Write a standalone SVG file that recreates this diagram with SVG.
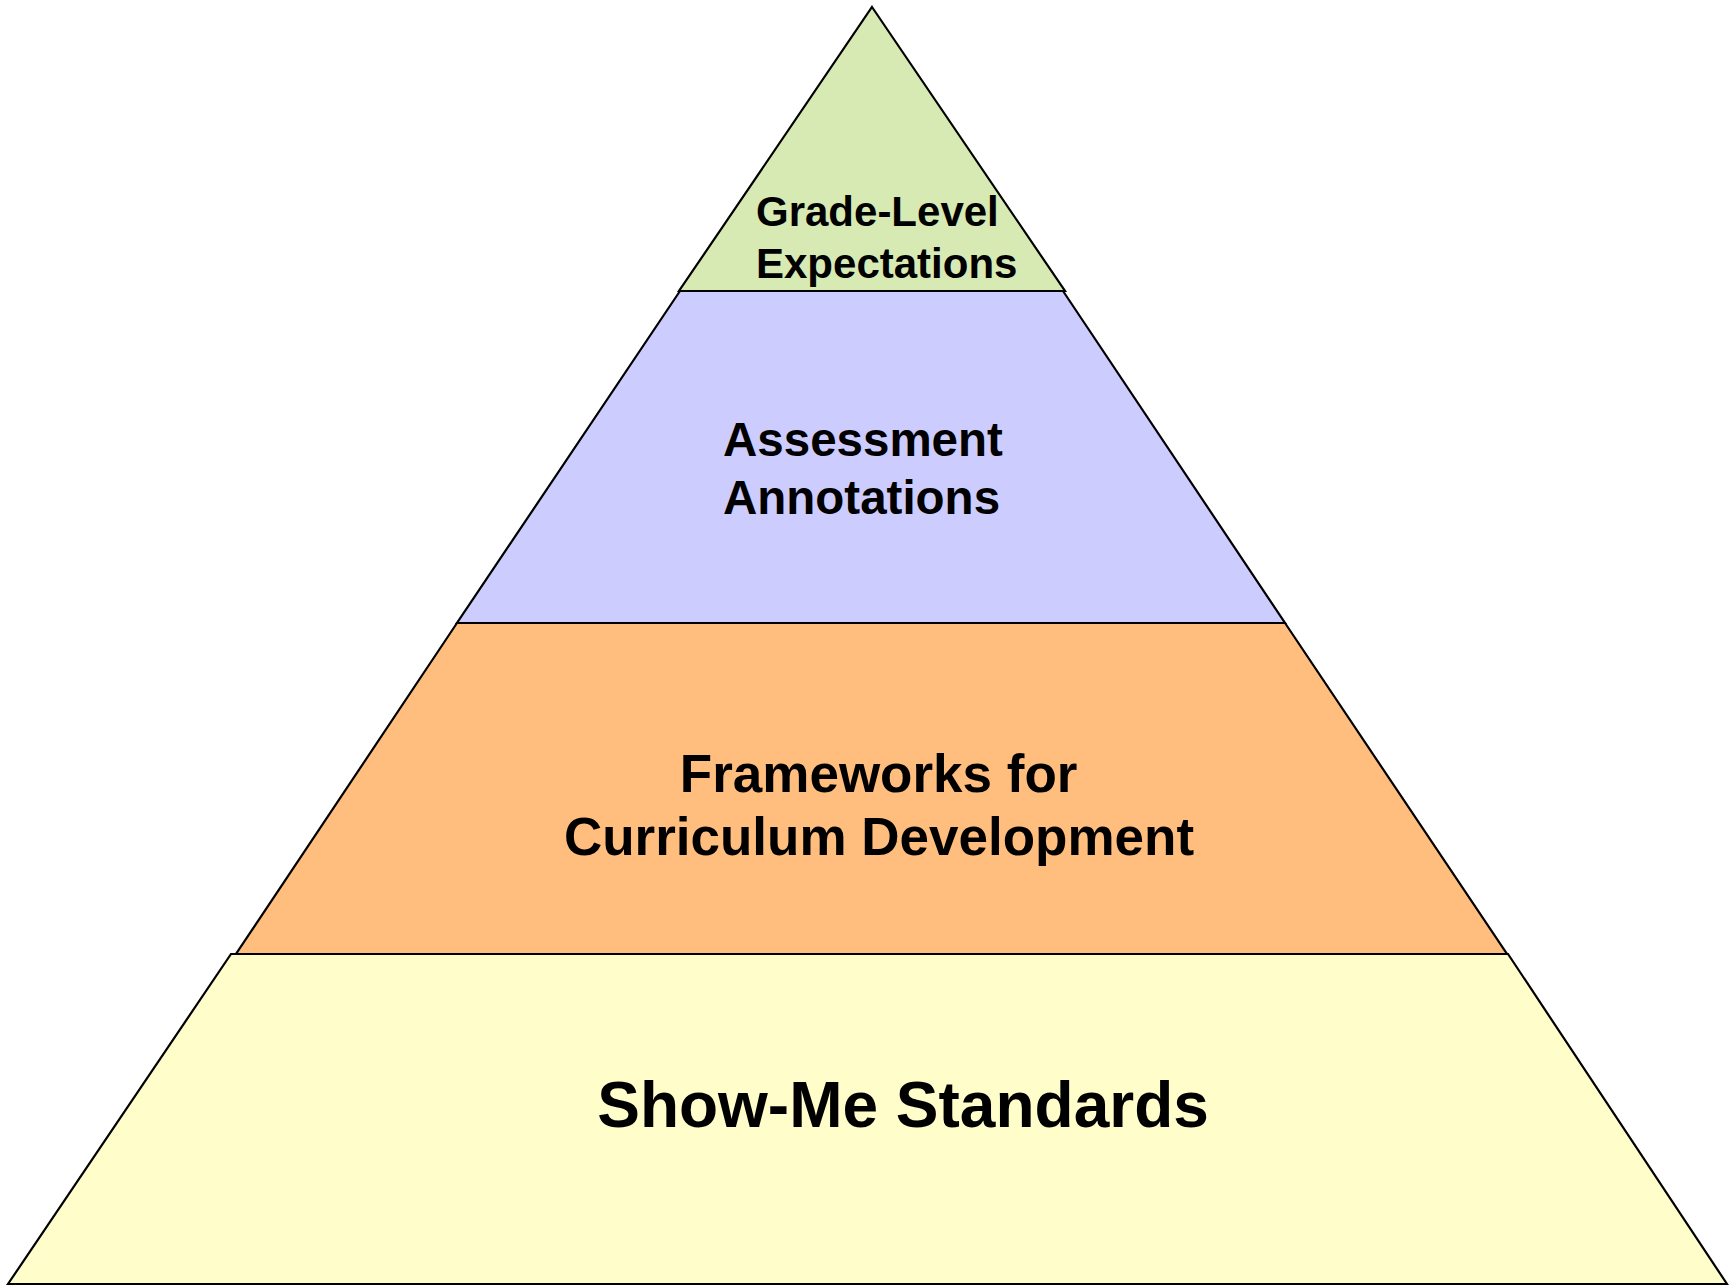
<svg xmlns="http://www.w3.org/2000/svg" width="1730" height="1285" viewBox="0 0 1730 1285">
  <style>
    .tier { stroke: #000000; stroke-width: 2.2; stroke-linejoin: miter; }
    .label { font-family: "Liberation Sans", Arial, Helvetica, sans-serif; font-weight: bold; fill: #000000; }
  </style>
  <rect width="1730" height="1285" fill="#ffffff"/>

  <!-- Base tier -->
  <g id="show-me-standards">
    <polygon class="tier" fill="#FFFDCA" points="231,954 1508,954 1727,1284 8,1284"/>
    <text class="label" x="903" y="1127" font-size="64" text-anchor="middle">Show-Me Standards</text>
  </g>

  <!-- Third tier -->
  <g id="frameworks">
    <polygon class="tier" fill="#FFBE7D" points="457,623 1285,623 1507,954 236,954"/>
    <text class="label" font-size="53" text-anchor="middle">
      <tspan x="886" y="792">Frameworks for</tspan>
      <tspan x="879" y="855">Curriculum Development</tspan>
    </text>
  </g>

  <!-- Second tier -->
  <g id="assessment-annotations">
    <polygon class="tier" fill="#CCCCFF" points="680,291 1063,291 1285,623 457,623"/>
    <text class="label" font-size="47.5">
      <tspan x="723" y="456">Assessment</tspan>
      <tspan x="723" y="514">Annotations</tspan>
    </text>
  </g>

  <!-- Apex tier -->
  <g id="grade-level-expectations">
    <polygon class="tier" fill="#D7EAB3" points="872,7 1065,291 679,291"/>
    <text class="label" font-size="42">
      <tspan x="756" y="226">Grade-Level</tspan>
      <tspan x="756" y="278">Expectations</tspan>
    </text>
  </g>
</svg>
